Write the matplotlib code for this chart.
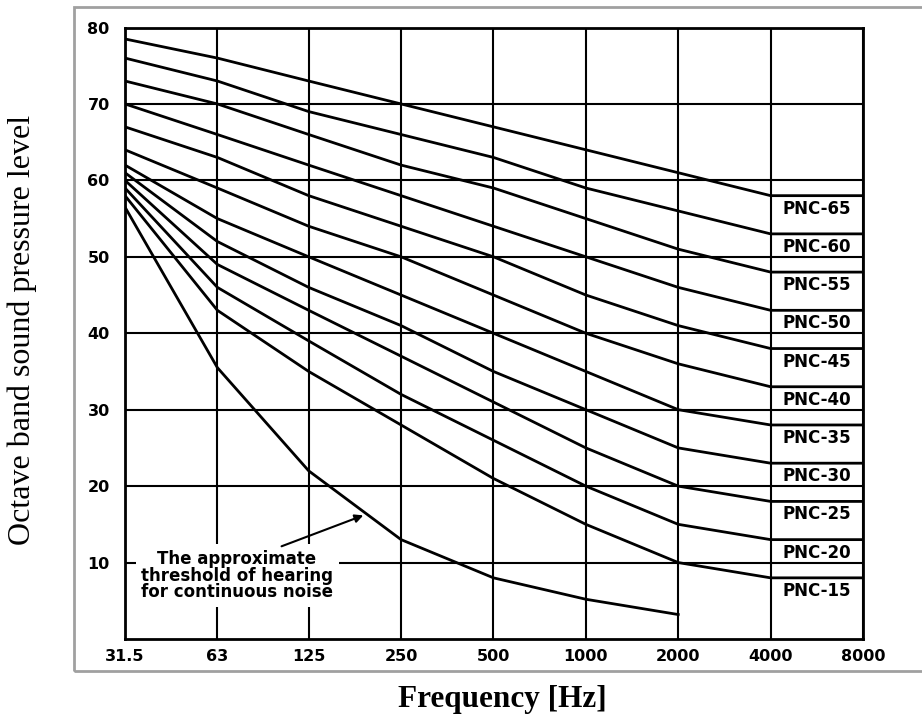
import matplotlib.pyplot as plt
from matplotlib.patches import Rectangle
from matplotlib.ticker import NullLocator

# octave band centre frequencies
freqs = [31.5, 63, 125, 250, 500, 1000, 2000, 4000, 8000]
freq_labels = ['31.5', '63', '125', '250', '500', '1000', '2000', '4000', '8000']

# PNC curves (dB)
pnc_names = [15, 20, 25, 30, 35, 40, 45, 50, 55, 60, 65]
pnc15 = [58, 43, 35, 28, 21, 15, 10, 8, 8]
pnc20 = [59, 46, 39, 32, 26, 20, 15, 13, 13]
pnc25 = [60, 49, 43, 37, 31, 25, 20, 18, 18]
pnc30 = [61, 52, 46, 41, 35, 30, 25, 23, 23]
pnc35 = [62, 55, 50, 45, 40, 35, 30, 28, 28]
pnc40 = [64, 59, 54, 50, 45, 40, 36, 33, 33]
pnc45 = [67, 63, 58, 54, 50, 45, 41, 38, 38]
pnc50 = [70, 66, 62, 58, 54, 50, 46, 43, 43]
pnc55 = [73, 70, 66, 62, 59, 55, 51, 48, 48]
pnc60 = [76, 73, 69, 66, 63, 59, 56, 53, 53]
pnc65 = [78.5, 76, 73, 70, 67, 64, 61, 58, 58]
pnc_curves = [pnc15, pnc20, pnc25, pnc30, pnc35, pnc40, pnc45, pnc50, pnc55, pnc60, pnc65]

# threshold of hearing (31.5 .. 2000 Hz)
thr_freqs = [31.5, 63, 125, 250, 500, 1000, 2000]
thr_vals = [56.5, 35.5, 22, 13, 8, 5.2, 3.2]

fig = plt.figure(figsize=(9.22, 7.22), dpi=100)
ax = fig.add_axes([125 / 922, 1 - 639 / 722, (863 - 125) / 922, (639 - 27.5) / 722])

ax.set_xscale('log', base=2)
ax.set_xlim(31.5, 8000)
ax.set_ylim(0, 80)

for name, vals in zip(pnc_names, pnc_curves):
    ax.plot(freqs, vals, color='k', lw=2.0, zorder=3)
    ax.text(5657, vals[-1] - 1.7, 'PNC-%d' % name, ha='center', va='center',
            fontsize=12, fontweight='bold', zorder=4)

ax.plot(thr_freqs, thr_vals, color='k', lw=2.0, zorder=3)

ax.text(73, 8.3, 'The approximate\nthreshold of hearing\nfor continuous noise',
        ha='center', va='center', fontsize=12, fontweight='bold', linespacing=0.9,
        zorder=2, bbox=dict(facecolor='white', edgecolor='none', pad=4))
ax.annotate('', xy=(192, 16.3), xytext=(100, 12.0),
            arrowprops=dict(arrowstyle='-|>', color='k', lw=1.5, mutation_scale=12),
            zorder=3)

ax.set_xticks(freqs)
ax.set_xticklabels(freq_labels)
ax.xaxis.set_minor_locator(NullLocator())
ax.set_yticks(range(10, 81, 10))
ax.tick_params(length=0, labelsize=11.5)
ax.tick_params(axis='x', pad=7)
ax.tick_params(axis='y', pad=11)
for lab in ax.get_xticklabels() + ax.get_yticklabels():
    lab.set_fontweight('bold')

ax.grid(True, color='k', lw=1.5)
ax.set_axisbelow(True)
for sp in ax.spines.values():
    sp.set_linewidth(2)

fig.add_artist(Rectangle((74 / 922, 1 - 671 / 722), (930 - 74) / 922, (671 - 7) / 722,
                         transform=fig.transFigure, fill=False, ec='#a0a0a0', lw=2))

fig.text(502 / 922, 1 - 700 / 722, 'Frequency [Hz]', ha='center', va='center',
         fontsize=22.5, fontweight='bold', family='Liberation Serif')
fig.text(22 / 922, 1 - 330 / 722, 'Octave band sound pressure level', ha='center',
         va='center', rotation=90, fontsize=23, family='Liberation Serif')

fig.savefig('out.png', dpi=100)
